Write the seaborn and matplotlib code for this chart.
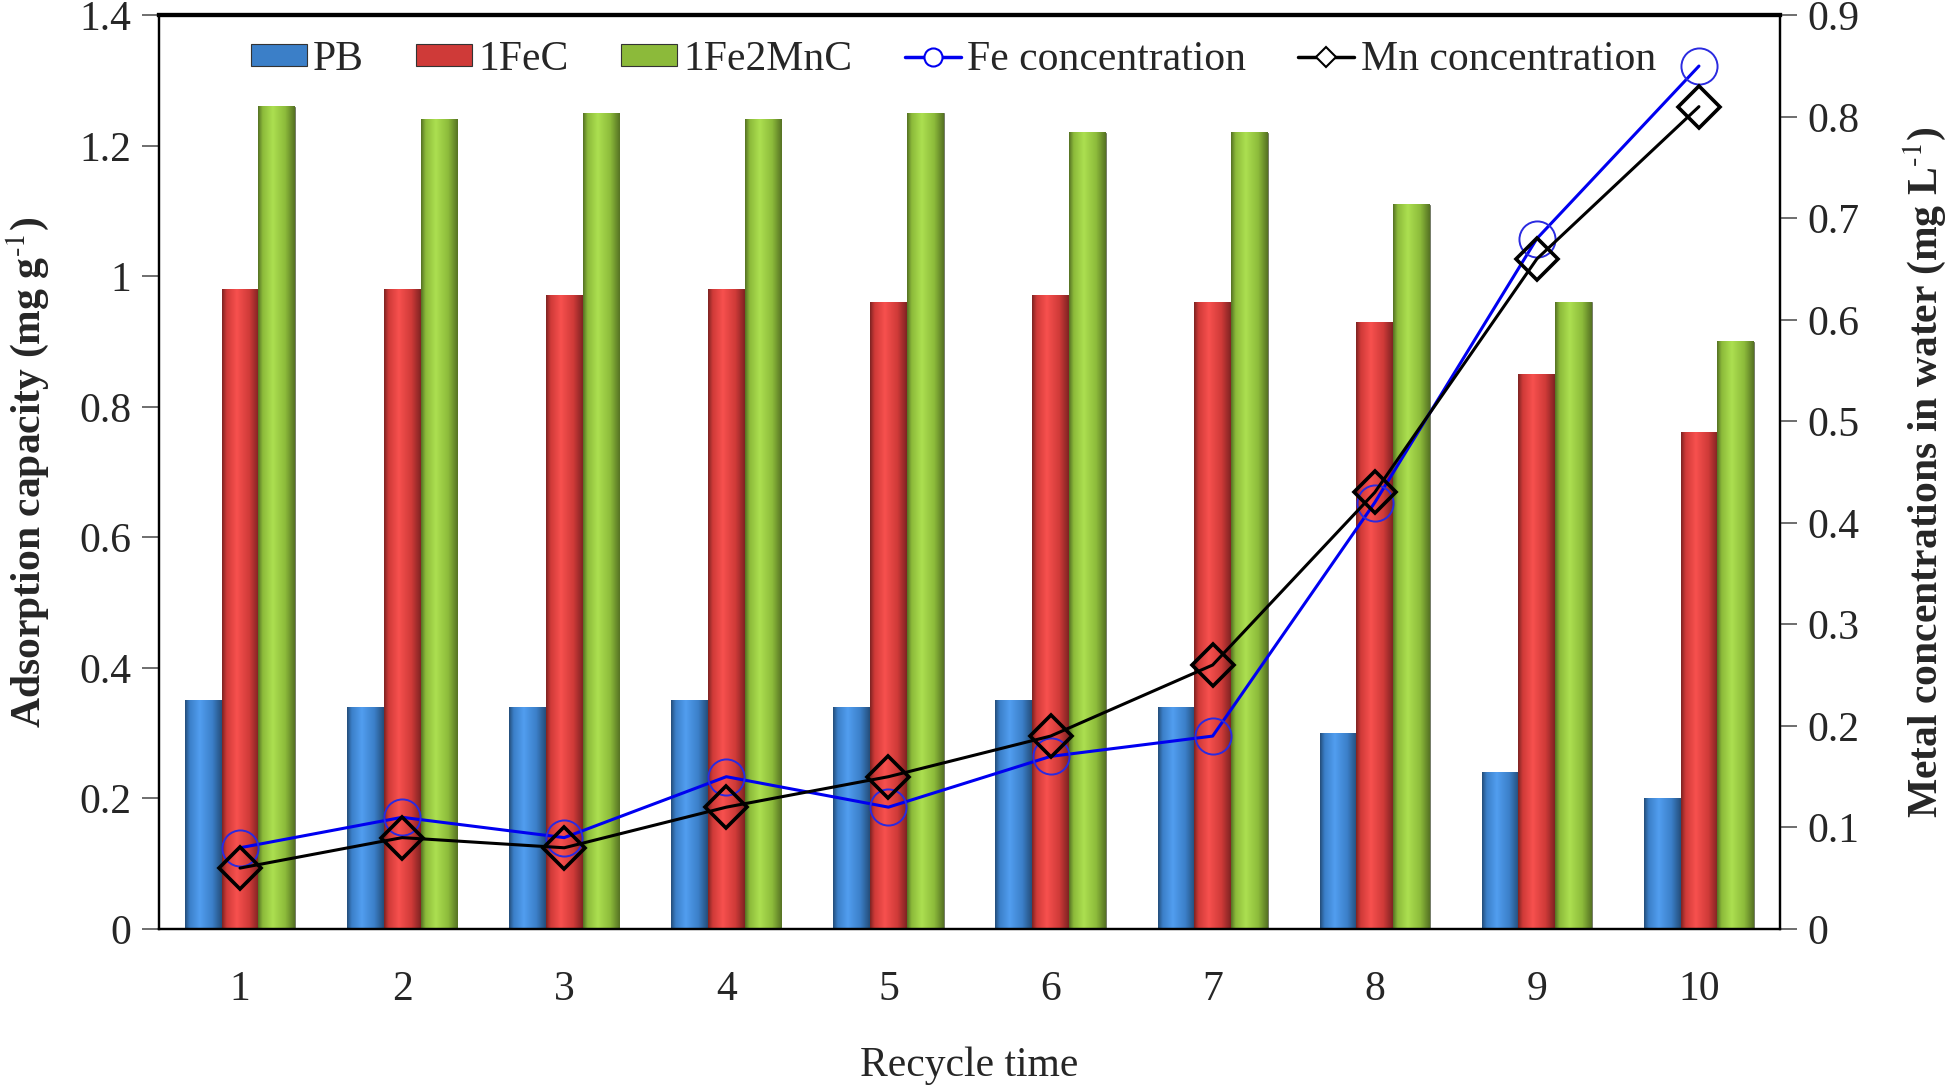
import numpy as np
import pandas as pd
import matplotlib
matplotlib.use("Agg")
import matplotlib.pyplot as plt
import seaborn as sns
from matplotlib.patches import Patch
from matplotlib.lines import Line2D
from matplotlib.colors import LinearSegmentedColormap, to_rgb
from matplotlib.ticker import FuncFormatter, MultipleLocator

# ── data ────────────────────────────────────────────────────
cycles = ["1", "2", "3", "4", "5", "6", "7", "8", "9", "10"]
materials = ["PB", "1FeC", "1Fe2MnC"]
pb = [0.35, 0.34, 0.34, 0.35, 0.34, 0.35, 0.34, 0.30, 0.24, 0.20]
fec = [0.98, 0.98, 0.97, 0.98, 0.96, 0.97, 0.96, 0.93, 0.85, 0.76]
fe2mnc = [1.26, 1.24, 1.25, 1.24, 1.25, 1.22, 1.22, 1.11, 0.96, 0.90]
fe_conc = [0.08, 0.11, 0.09, 0.15, 0.12, 0.17, 0.19, 0.42, 0.68, 0.85]
mn_conc = [0.06, 0.09, 0.08, 0.12, 0.15, 0.19, 0.26, 0.43, 0.66, 0.81]

bar_colors = ["#3b7fc8", "#cf3a38", "#8cba3a"]

df = pd.DataFrame({
    "cycle": cycles * 3,
    "material": [m for m in materials for _ in cycles],
    "capacity": pb + fec + fe2mnc,
})

sns.set_theme(style="white")
plt.rcParams["font.family"] = ["Liberation Serif", "DejaVu Serif"]
plt.rcParams["mathtext.fontset"] = "stix"
FS = 30

fig = plt.figure(figsize=(19.46, 10.91), dpi=100)
ax = fig.add_axes([0.0817, 0.1485, 0.8330, 0.8375])

sns.barplot(data=df, x="cycle", y="capacity", hue="material",
            hue_order=materials, order=cycles, palette=bar_colors,
            saturation=1, width=0.68, gap=0, legend=False, ax=ax,
            edgecolor="#555555", linewidth=0.5)

ax.set_xlim(-0.5, 9.5)
ax.set_ylim(0, 1.4)


# shaded "cylinder" look like the Excel bars
def shade(c):
    r = np.array(to_rgb(c))
    dark = r * 0.62
    light = np.clip(r * 1.12 + 0.06, 0, 1)
    return LinearSegmentedColormap.from_list(
        "s", [(0, dark), (0.12, r), (0.4, light), (0.75, r), (1, dark)])


grad = np.linspace(0, 1, 64).reshape(1, -1)
for p in list(ax.patches):
    x0, y0 = p.get_x(), p.get_y()
    w, h = p.get_width(), p.get_height()
    if h <= 0:
        continue
    ax.imshow(grad, extent=[x0, x0 + w, y0, y0 + h], aspect="auto",
              cmap=shade(p.get_facecolor()), zorder=p.get_zorder() + 0.1,
              interpolation="bilinear")
ax.set_xlim(-0.5, 9.5)
ax.set_ylim(0, 1.4)
ax.set_aspect("auto")

ax.yaxis.set_major_locator(MultipleLocator(0.2))
fmt = FuncFormatter(lambda v, p: f"{v:g}")
ax.yaxis.set_major_formatter(fmt)

# category boundaries as minor ticks, labels at centres
ax.set_xticks(np.arange(-0.5, 10, 1), minor=True)
ax.tick_params(axis="x", which="major", length=0, labelsize=FS, pad=30)
ax.tick_params(axis="x", which="minor", length=11, width=1.2, color="#555555",
               direction="out")
ax.tick_params(axis="y", length=12, width=1.2, color="#555555",
               direction="out", labelsize=FS, pad=8, left=True)

ax.set_xlabel("Recycle time", fontsize=FS, labelpad=27)
ax.set_ylabel(r"Adsorption capacity (mg g$^{\text{-}1}$)", fontsize=FS,
              fontweight="bold", labelpad=20)

for s in ["left", "bottom", "right"]:
    ax.spines[s].set_color("black")
    ax.spines[s].set_linewidth(1.6)
ax.spines["top"].set_color("black")
ax.spines["top"].set_linewidth(3)

# ── concentration lines on the right axis ──────────────────
ax2 = ax.twinx()
x = np.arange(len(cycles))
ax2.plot(x, fe_conc, color="#0000f0", lw=2.2, marker="o", markersize=26,
         mfc="none", mec="#2a2ae0", mew=1.4, zorder=3)
ax2.plot(x, mn_conc, color="black", lw=2.2, marker="D", markersize=21,
         mfc="none", mec="black", mew=2.6, zorder=4)
ax2.set_ylim(0, 0.9)
ax2.yaxis.set_major_locator(MultipleLocator(0.1))
ax2.yaxis.set_major_formatter(fmt)
ax2.tick_params(axis="y", length=12, width=1.2, color="#555555",
                direction="out", labelsize=FS, pad=8, right=True)
ax2.set_ylabel(r"Metal concentrations in water (mg L$^{\text{-}1}$)",
               fontsize=FS, fontweight="bold", labelpad=30)
ax2.grid(False)
ax.grid(False)
for s in ["left", "bottom", "right"]:
    ax2.spines[s].set_color("black")
    ax2.spines[s].set_linewidth(1.6)
ax2.spines["top"].set_linewidth(3)
ax2.spines["top"].set_color("black")

# ── legend in one row along the top ─────────────────────────
handles = [Patch(facecolor=c, edgecolor="#333333", lw=0.8) for c in bar_colors]
handles += [
    Line2D([], [], color="#0000f0", lw=2.5, marker="o", markersize=13,
           mfc="white", mec="#0000f0", mew=1.5),
    Line2D([], [], color="black", lw=2.5, marker="D", markersize=10,
           mfc="white", mec="black", mew=1.5),
]
labels = materials + ["Fe concentration", "Mn concentration"]
ax2.legend(handles, labels, loc="upper center", bbox_to_anchor=(0.49, 1.0),
           ncol=5, frameon=False, fontsize=FS, handlelength=1.35,
           handleheight=0.45, handletextpad=0.15, columnspacing=1.25,
           borderaxespad=0.2)

fig.savefig("out.png", dpi=100)
